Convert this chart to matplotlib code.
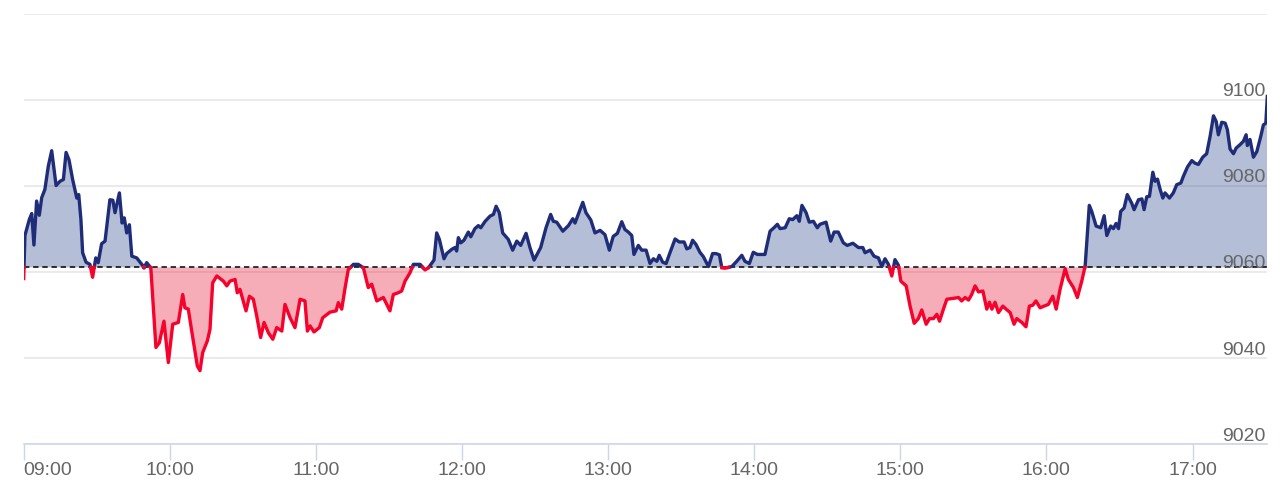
import matplotlib
matplotlib.use("Agg")
import matplotlib.pyplot as plt
import numpy as np

plt.rcParams["font.family"] = ["Liberation Sans", "DejaVu Sans"]

# minutes after 09:00 and index level
minutes = [0, 0.5, 2.3, 3.3, 4.2, 5.3, 6.4, 7.4, 8.7, 10.1, 11.5, 13.3, 14.9, 16.3, 17.4, 18.6,
           20.1, 21.8, 22.6, 23.5, 24.2, 25.6, 27.2, 28.3, 29.6, 30.6, 32.0, 33.4, 35.4, 36.6,
           37.5, 39.3, 40.4, 41.3, 42.3, 43.4, 44.4, 46.4, 48.5, 49.4, 50.5, 52.2,
           54.3, 55.7, 57.6, 59.4, 61.2, 63.5, 65.3, 66.2, 67.6, 69.0, 71.3, 72.4, 73.5, 75.4,
           76.5, 77.6, 79.3, 82.0, 83.4, 84.7, 86.8, 87.7, 88.8, 91.3, 92.7, 94.3, 95.7, 97.3,
           98.7, 100.5, 102.3, 103.9, 106.0, 107.3, 109.4, 111.4, 113.5, 115.5, 116.5, 117.6,
           119.2, 121.4, 122.8, 125.8, 128.3, 129.2, 130.6, 132.0, 133.3, 135.4, 137.4, 139.5,
           141.5, 142.9, 145.0, 147.7, 150.4, 151.8, 153.8, 155.2, 156.6, 158.7, 160.0, 162.8,
           164.8, 166.2, 168.5, 169.6, 170.7, 172.6, 173.7, 175.8, 177.1, 177.8, 178.5, 179.5,
           180.8, 182.6, 183.6, 185.3, 186.7, 187.7, 189.5, 191.5, 192.9, 194.0, 195.3, 196.7,
           199.0, 200.8, 202.5, 204.1, 206.3, 207.9, 209.6, 212.3, 214.5, 216.4, 217.5, 218.9,
           221.4, 223.7, 225.5, 226.4, 228.2, 229.6, 230.9, 232.9, 234.6, 236.7, 238.7, 240.5,
           242.1, 243.8, 245.6, 246.9, 248.3, 249.7, 250.6, 252.4, 253.8, 255.6, 257.2, 258.6,
           260.0, 261.0, 262.4, 263.8, 265.4, 267.5, 269.2, 271.2, 272.3, 273.6, 274.7, 276.1,
           277.7, 279.1, 281.2, 282.9, 284.3, 285.7, 286.7, 288.0, 290.8, 292.8, 294.9, 296.2,
           298.0, 299.6, 301.3, 304.4, 306.5, 308.1, 309.5, 310.6, 312.7, 314.4, 315.8, 317.5,
           318.5, 319.6, 321.3, 322.6, 324.3, 325.9, 327.0, 329.5, 331.4, 332.8, 334.5, 336.6,
           338.2, 340.5, 342.8, 344.6, 345.5, 347.6, 349.2, 351.0, 352.4, 353.7, 355.1, 356.5,
           357.8, 359.2, 360.2, 362.4, 364.0, 365.7, 367.4, 368.8, 370.6, 372.0, 373.6, 375.0,
           376.1, 377.7, 379.1, 381.8, 383.9, 385.2, 386.6, 388.0, 389.3, 390.7, 392.1, 393.9,
           395.5, 396.6, 397.6, 398.9, 400.3, 402.1, 403.4, 405.1, 406.7, 407.8, 409.9, 411.6,
           413.0, 414.4, 415.7, 417.4, 419.0, 420.8, 422.6, 424.0, 425.6, 427.7, 429.0, 431.1,
           432.7, 434.5, 435.9, 437.6, 438.6, 440.4, 442.3, 443.7, 444.8, 446.4, 447.5, 448.6,
           449.6, 450.5, 451.9, 453.2, 455.1, 456.0, 457.8, 459.2, 460.1, 461.2, 462.3, 463.7,
           464.6, 465.6, 466.7, 467.8, 468.7, 470.5, 472.1, 473.5, 475.2, 476.2, 477.9, 479.7,
           481.0, 482.4, 484.2, 485.8, 487.2, 488.6, 489.7, 490.6, 492.0, 493.4, 494.3, 495.4,
           496.8, 497.9, 499.5, 500.9, 502.0, 502.5, 503.6, 505.0, 506.4, 508.0, 509.1, 510.1,
           510.7]
prices = [9058.5, 9068.5, 9072.2, 9073.6, 9066.3, 9076.5, 9073.2, 9077.3, 9079.2, 9084.6, 9088.2,
          9080.1, 9081.1, 9081.5, 9087.8, 9086.1, 9081.5, 9077.2, 9078.0, 9072.2, 9064.5, 9062.3,
          9061.8, 9058.8, 9063.3, 9062.2, 9066.6, 9067.2, 9076.8, 9076.7, 9073.8, 9078.4, 9071.4,
          9072.6, 9069.1, 9071.0, 9063.7, 9063.3, 9061.8, 9061.0, 9062.2, 9061.0,
          9042.5, 9043.6, 9048.6, 9039.0, 9047.9, 9048.3, 9054.8, 9051.7, 9051.4, 9046.3, 9038.2,
          9037.1, 9041.3, 9044.0, 9046.7, 9057.5, 9059.1, 9057.9, 9056.8, 9057.9, 9058.3, 9055.2,
          9056.0, 9051.0, 9054.4, 9053.7, 9049.8, 9044.8, 9048.3, 9045.9, 9044.4, 9047.1, 9046.3,
          9052.5, 9049.4, 9047.1, 9053.7, 9053.3, 9046.3, 9047.5, 9046.1, 9047.1, 9049.4, 9050.7,
          9051.0, 9052.9, 9051.4, 9056.4, 9060.6, 9061.8, 9061.8, 9061.0, 9056.4, 9057.2, 9053.3,
          9054.1, 9051.0, 9054.8, 9055.2, 9055.6, 9057.9, 9059.9, 9061.8, 9061.8, 9060.5, 9061.0,
          9062.8, 9069.1, 9067.6, 9063.1, 9064.3, 9065.3, 9065.7, 9064.9, 9068.0, 9066.8, 9067.4,
          9069.3, 9068.2, 9070.1, 9070.8, 9070.3, 9071.8, 9073.0, 9073.4, 9075.3, 9073.8, 9069.1,
          9067.6, 9065.1, 9067.2, 9066.2, 9069.0, 9065.7, 9062.8, 9065.7, 9070.3, 9073.4, 9071.8,
          9071.6, 9069.5, 9070.8, 9072.4, 9071.4, 9074.1, 9076.2, 9073.8, 9072.1, 9069.1, 9069.7,
          9068.7, 9065.1, 9068.3, 9069.0, 9071.7, 9069.9, 9069.3, 9068.5, 9064.1, 9066.2, 9065.1,
          9065.1, 9062.0, 9063.1, 9062.5, 9063.9, 9062.3, 9062.0, 9064.5, 9067.7, 9067.0, 9067.0,
          9065.4, 9065.7, 9067.4, 9066.4, 9064.6, 9063.6, 9061.3, 9064.3, 9064.3, 9064.0, 9061.0,
          9060.9, 9061.3, 9062.5, 9063.9, 9062.5, 9062.0, 9064.6, 9064.1, 9064.1, 9069.5, 9070.3,
          9071.1, 9070.1, 9070.3, 9072.4, 9072.2, 9073.1, 9071.8, 9075.5, 9073.8, 9071.6, 9071.8,
          9070.3, 9071.1, 9071.6, 9067.2, 9069.3, 9069.3, 9066.8, 9066.2, 9066.7, 9065.7, 9065.7,
          9064.5, 9065.1, 9063.7, 9063.3, 9061.3, 9063.1, 9061.8, 9059.1, 9062.9, 9061.6, 9057.9,
          9056.8, 9052.1, 9048.1, 9049.2, 9051.2, 9047.9, 9049.2, 9049.2, 9050.2, 9048.6, 9051.4,
          9053.7, 9053.9, 9054.1, 9053.3, 9054.1, 9053.5, 9054.8, 9056.8, 9055.4, 9055.6, 9051.4,
          9053.0, 9051.4, 9053.0, 9050.6, 9052.1, 9051.4, 9050.6, 9047.9, 9049.2, 9048.3, 9047.3,
          9052.1, 9052.3, 9053.3, 9051.7, 9052.1, 9052.5, 9054.4, 9051.4, 9056.0, 9060.8, 9058.3,
          9056.4, 9054.1, 9057.9, 9061.4, 9075.5, 9074.1, 9070.7, 9070.3, 9073.1, 9068.5, 9070.7,
          9070.1, 9071.3, 9070.1, 9074.1, 9074.9, 9078.0, 9075.9, 9074.5, 9076.8, 9077.0, 9074.5,
          9077.5, 9077.6, 9083.2, 9081.1, 9081.6, 9079.2, 9077.2, 9078.4, 9077.2, 9078.4, 9080.3,
          9080.7, 9082.2, 9084.4, 9085.9, 9085.3, 9085.0, 9086.7, 9087.5, 9091.5, 9096.3, 9095.0,
          9091.9, 9094.8, 9094.6, 9093.1, 9088.6, 9087.5, 9088.8, 9089.6, 9090.4, 9091.9, 9089.4,
          9090.8, 9086.7, 9088.0, 9091.5, 9094.2, 9094.6, 9100.8]
prev_close = 9061.1

hour_ticks = [0, 60, 120, 180, 240, 300, 360, 420, 480]
hour_labels = ["09:00", "10:00", "11:00", "12:00", "13:00", "14:00", "15:00", "16:00", "17:00"]
level_ticks = [9020, 9040, 9060, 9080, 9100, 9120]
level_labels = ["9020", "9040", "9060", "9080", "9100"]

t = np.array(minutes, dtype=float)
p = np.array(prices, dtype=float)

# add baseline crossings so the two colours meet cleanly
xs, ys = [t[0]], [p[0]]
for i in range(1, len(t)):
    a, b = p[i - 1] - prev_close, p[i] - prev_close
    if a * b < 0:
        xs.append(t[i - 1] + (t[i] - t[i - 1]) * a / (a - b))
        ys.append(prev_close)
    xs.append(t[i])
    ys.append(p[i])
xs = np.array(xs)
ys = np.array(ys)

fig = plt.figure(figsize=(12.88, 4.93), dpi=100)
ax = fig.add_axes([23.7 / 1288, (493 - 444.3) / 493, 1243.6 / 1288, 430.5 / 493])

ax.fill_between(xs, ys, prev_close, where=ys >= prev_close, interpolate=True,
                color=(40 / 255, 70 / 255, 140 / 255), alpha=0.35, lw=0, zorder=2)
ax.fill_between(xs, ys, prev_close, where=ys <= prev_close, interpolate=True,
                color=(232 / 255, 20 / 255, 50 / 255), alpha=0.35, lw=0, zorder=2)
ax.axhline(prev_close, color="black", lw=1.1, ls=(0, (3.5, 2.5)), zorder=3)

up = np.where(ys >= prev_close, ys, np.nan)
down = np.where(ys <= prev_close, ys, np.nan)
ax.plot(xs, up, color="#1f2d78", lw=2.4, solid_joinstyle="round", zorder=4)
ax.plot(xs, down, color="#f5022d", lw=2.4, solid_joinstyle="round", zorder=4)

ax.set_xlim(0, 510.7)
ax.set_ylim(9020, 9120)

ax.set_yticks(level_ticks)
ax.yaxis.grid(True, color="#e6e6e6", lw=1.2, zorder=0)
ax.set_axisbelow(True)
ax.tick_params(axis="y", length=0, labelleft=False)
for v, lab in zip(level_ticks, level_labels):
    ax.annotate(lab, xy=(1, v), xycoords=("axes fraction", "data"), xytext=(-1, 2.6),
                textcoords="offset points", ha="right", va="baseline",
                fontsize=14, color="#666666", zorder=5)

ax.set_xticks(hour_ticks)
ax.set_xticklabels(hour_labels)
ax.tick_params(axis="x", length=11.5, width=1, color="#ccd6eb", labelsize=14,
               labelcolor="#666666", pad=1.5)
ax.get_xticklabels()[0].set_ha("left")

for s in ["top", "left", "right"]:
    ax.spines[s].set_visible(False)
ax.spines["bottom"].set_color("#ccd6eb")
ax.spines["bottom"].set_linewidth(1.2)

fig.savefig("out.png", dpi=100)
